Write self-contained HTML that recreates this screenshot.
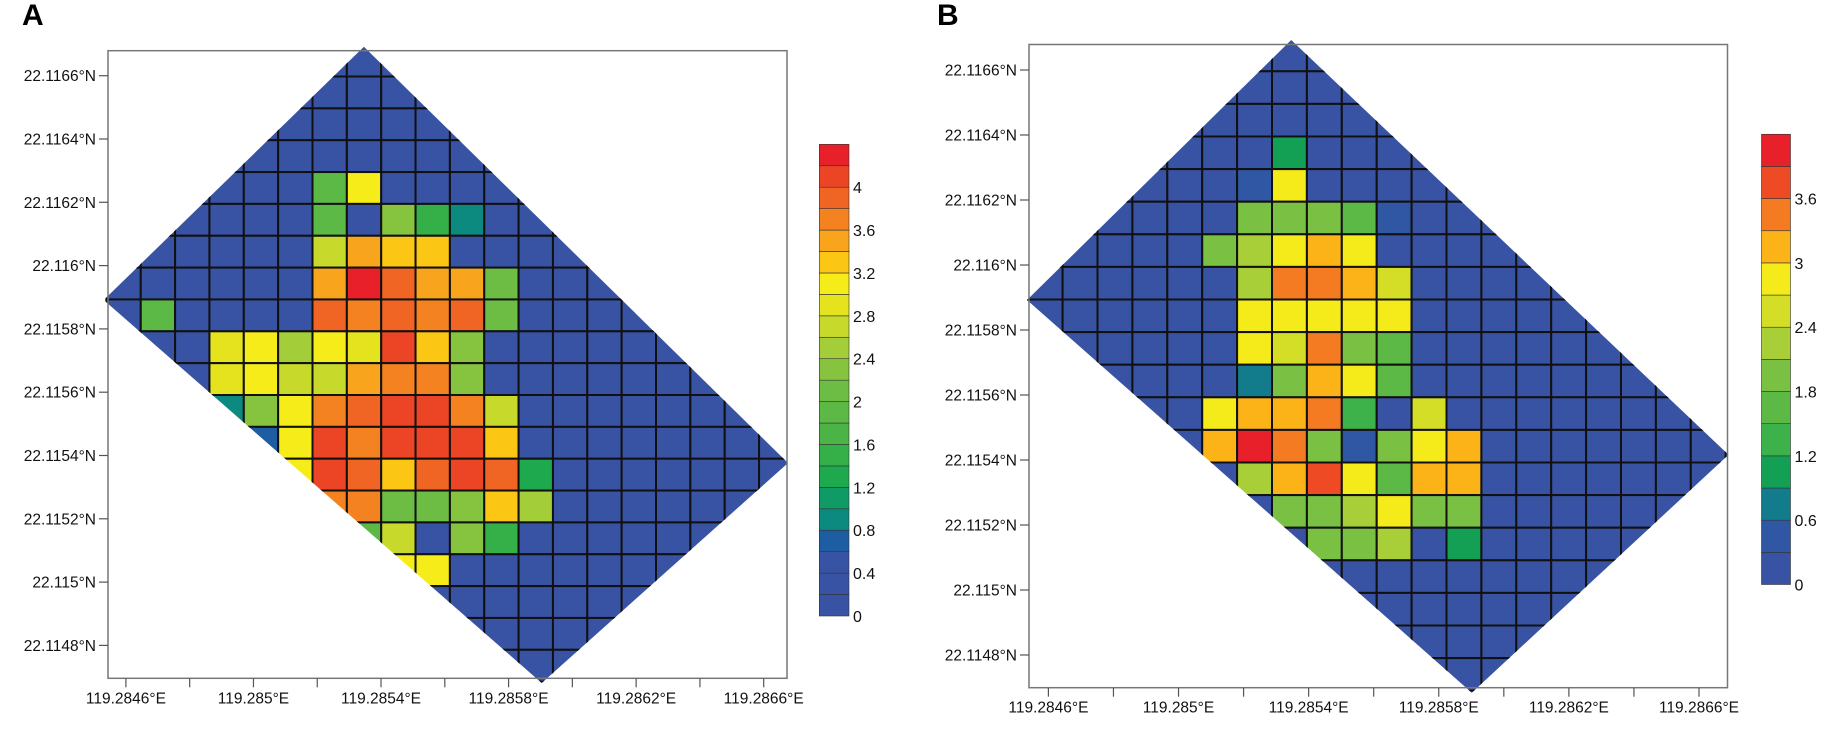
<!DOCTYPE html>
<html><head><meta charset="utf-8">
<style>
html,body{margin:0;padding:0;background:#fff;}
svg{display:block;font-family:"Liberation Sans",Arial,sans-serif;}
</style></head>
<body>
<svg id="fig" width="1825" height="749" viewBox="0 0 1825 749" xmlns="http://www.w3.org/2000/svg">
<defs>
<clipPath id="clipA"><polygon points="363.9,46.7 788,463 541.7,683 103.7,300"/></clipPath>
<clipPath id="clipB"><polygon points="1291.2,40 1728.5,454.8 1471.8,692.7 1027,300"/></clipPath>
</defs>
<text x="22" y="25" font-size="30" font-weight="bold">A</text>
<text x="937" y="25" font-size="30" font-weight="bold">B</text>
<g id="layer"></g>
</svg>
<script>
// ---- Panel A data (grid row, grid column, value) ----
const aRow = [4,4, 5,5,5,5, 6,6,6,6, 7,7,7,7,7,7, 8,8,8,8,8,8,8, 9,9,9,9,9,9,9,9, 10,10,10,10,10,10,10,10, 11,11,11,11,11,11,11,11,11, 12,12,12,12,12,12,12,12, 13,13,13,13,13,13,13,13, 14,14,14,14,14,14,14, 15,15,15,15, 16,16];
const aCol = [6,7, 6,8,9,10, 6,7,8,9, 6,7,8,9,10,11, 1,6,7,8,9,10,11, 3,4,5,6,7,8,9,10, 3,4,5,6,7,8,9,10, 3,4,5,6,7,8,9,10,11, 4,5,6,7,8,9,10,11, 5,6,7,8,9,10,11,12, 6,7,8,9,10,11,12, 7,8,10,11, 8,9];
const aVal = [1.8,3.0, 1.8,2.2,1.4,0.9, 2.6,3.4,3.2,3.3, 3.5,4.3,3.9,3.5,3.4,2.0, 1.8,3.9,3.7,3.9,3.7,3.9,2.0, 2.9,3.0,2.5,3.1,2.8,4.1,3.3,2.2, 2.9,3.1,2.6,2.7,3.4,3.6,3.6,2.2, 0.9,2.2,3.0,3.6,3.9,4.1,4.1,3.6,2.6, 0.7,3.0,4.0,3.7,4.1,4.1,4.1,3.3, 3.0,4.1,3.9,3.2,3.9,4.1,3.9,1.3, 3.6,3.6,2.1,2.1,2.2,3.3,2.5, 1.8,2.7,2.2,1.5, 3.0,3.0];
const aColors = ['#3953a4','#3953a4','#3953a4','#1d5ea3','#0d8a7f','#109a65','#1fa94f','#35af48','#4cb447','#5cb946','#6dbd44','#86c440','#a4ce39','#c7da2c','#e4e31e','#f6ec19','#fcc614','#f8a51d','#f58220','#f06524','#ec4525','#e8202a'];
const aBarLabels = ['0','0.4','0.8','1.2','1.6','2','2.4','2.8','3.2','3.6','4'];
const aBarValues = [0,0.4,0.8,1.2,1.6,2,2.4,2.8,3.2,3.6,4];
const aLatLabels = ['22.1166°N','22.1164°N','22.1162°N','22.116°N','22.1158°N','22.1156°N','22.1154°N','22.1152°N','22.115°N','22.1148°N'];
const aLonLabels = ['119.2846°E','119.285°E','119.2854°E','119.2858°E','119.2862°E','119.2866°E'];

// ---- Panel B data ----
const bRow = [3, 4,4, 5,5,5,5,5, 6,6,6,6,6, 7,7,7,7,7, 8,8,8,8,8, 9,9,9,9,9, 10,10,10,10,10, 11,11,11,11,11,11, 12,12,12,12,12,12,12,12, 13,13,13,13,13,13,13,13, 14,14,14,14,14,14,14, 15,15,15,15,15,15, 16,16,16];
const bCol = [9, 8,9, 8,9,10,11,12, 7,8,9,10,11, 8,9,10,11,12, 8,9,10,11,12, 8,9,10,11,12, 8,9,10,11,12,13, 7,8,9,10,11,12,13,14, 7,8,9,10,11,12,13,14, 8,9,10,11,12,13,14, 9,10,11,12,13,14, 10,11,12];
const bVal = [1.1, 0.45,2.85, 1.9,2.0,1.9,1.5,0.45, 1.9,2.2,2.85,3.1,2.85, 2.2,3.4,3.4,3.1,2.5, 2.9,2.9,2.95,2.7,2.8, 2.7,2.4,3.4,2.0,1.7, 0.75,1.8,3.0,2.85,1.7, 2.5,2.85,3.0,3.1,3.4,1.4, 1.8,2.85,3.1,3.1,4.0,3.5,1.8,0.45, 1.9,3.2,3.0,2.2,3.1,3.8,2.85,1.6, 1.9,1.9,1.9,1.9,2.2,2.85,2.0, 1.0,1.9,1.9,2.3,1.8,0.75, 1.9,1.9,1.9];
const bColors = ['#3953a4','#2f57a3','#137c8c','#14a054','#3db14a','#5cb946','#7ac143','#a8cf38','#d4de26','#f5eb1a','#fbb318','#f47b22','#ee4a24','#e8202a'];
const bBarLabels = ['0','0.6','1.2','1.8','2.4','3','3.6'];
const bBarValues = [0,0.6,1.2,1.8,2.4,3,3.6];
const bLatLabels = aLatLabels;
const bLonLabels = aLonLabels;

const NS = 'http://www.w3.org/2000/svg';
const layer = document.getElementById('layer');
function mk(tag, attrs, parent){
  const e = document.createElementNS(NS, tag);
  for (const k in attrs) e.setAttribute(k, attrs[k]);
  (parent||layer).appendChild(e);
  return e;
}

function panel(cfg){
  const g = mk('g', {});
  
  
  const xCell = c => cfg.x0 + c*cfg.dx;
  const yCell = r => cfg.y0 + r*cfg.dy;
  const colorOf = v => cfg.colors[Math.min(cfg.colors.length-1, Math.max(0, Math.floor(v/cfg.step + 1e-9)))];
  const grid = {};
  for (let i=0;i<cfg.rows.length;i++) grid[cfg.rows[i]+'_'+cfg.cols[i]] = cfg.vals[i];
  const cg = mk('g', {'clip-path':'url(#'+cfg.clip+')'}, g);
  for (let r=0;r<cfg.nRows;r++){
    for (let c=0;c<cfg.nCols;c++){
      const v = grid[r+'_'+c] || 0;
      const rect = mk('rect', {x:xCell(c), y:yCell(r), width:cfg.dx, height:cfg.dy, fill:colorOf(v), stroke:'#111', 'stroke-width':2}, cg);
      
      
    }
  }
  // frame
  const fr = mk('rect', {x:cfg.fx0, y:cfg.fy0, width:cfg.fx1-cfg.fx0, height:cfg.fy1-cfg.fy0, fill:'none', stroke:'#777', 'stroke-width':1.5}, g);
  
  
  // y ticks
  cfg.latLabels.forEach((lab,i)=>{
    const y = cfg.latY0 + i*cfg.latStep;
    mk('line', {x1:cfg.fx0-9, x2:cfg.fx0, y1:y, y2:y, stroke:'#555', 'stroke-width':1.2}, g);
    const t = mk('text', {x:cfg.fx0-12, y:y+5.5, 'font-size':15.5, 'text-anchor':'end', fill:'#111'}, g);
    t.textContent = lab;
    
    
  });
  // x ticks
  for (let k=0;k<cfg.lonLabels.length*2-1;k++){
    const x = cfg.lonX0 + k*cfg.lonStep;
    mk('line', {x1:x, x2:x, y1:cfg.fy1, y2:cfg.fy1+9, stroke:'#555', 'stroke-width':1.2}, g);
    if (k%2===0){
      const t = mk('text', {x:x, y:cfg.fy1+25, 'font-size':15.5, 'text-anchor':'middle', fill:'#111'}, g);
      t.textContent = cfg.lonLabels[k/2];
      
      
    }
  }
  // colorbar
  const cb = mk('g', {}, g);
  
  
  const yv = v => cfg.cbZero - v*cfg.cbScale;
  cfg.colors.forEach((col,i)=>{
    mk('rect', {x:cfg.cbX, y:yv((i+1)*cfg.step), width:cfg.cbW, height:cfg.step*cfg.cbScale, fill:col, stroke:'#333', 'stroke-width':0.6}, cb);
  });
  cfg.barValues.forEach((v,i)=>{
    const t = mk('text', {x:cfg.cbX+cfg.cbW+4, y:yv(v)+6, 'font-size':16, fill:'#111'}, cb);
    t.textContent = cfg.barLabels[i];
    
    
  });
}

panel({name:'panel-a', clip:'clipA', rows:aRow, cols:aCol, vals:aVal, colors:aColors, step:0.2,
  x0:106.4, dx:34.35, y0:44.65, dy:31.85, nRows:21, nCols:21,
  fx0:108, fy0:50.7, fx1:787, fy1:678.3,
  latLabels:aLatLabels, latY0:75.7, latStep:63.3,
  lonLabels:aLonLabels, lonX0:125.9, lonStep:63.78,
  cbX:819.3, cbW:29.7, cbZero:616, cbScale:107.2, barLabels:aBarLabels, barValues:aBarValues});

panel({name:'panel-b', clip:'clipB', rows:bRow, cols:bCol, vals:bVal, colors:bColors, step:0.3,
  x0:957.9, dx:34.9, y0:38.7, dy:32.6, nRows:21, nCols:23,
  fx0:1029, fy0:44.5, fx1:1727.5, fy1:687.7,
  latLabels:bLatLabels, latY0:70, latStep:65,
  lonLabels:bLonLabels, lonX0:1048.4, lonStep:65.06,
  cbX:1761.5, cbW:29, cbZero:584.5, cbScale:107.2, barLabels:bBarLabels, barValues:bBarValues});
</script>
</body></html>
